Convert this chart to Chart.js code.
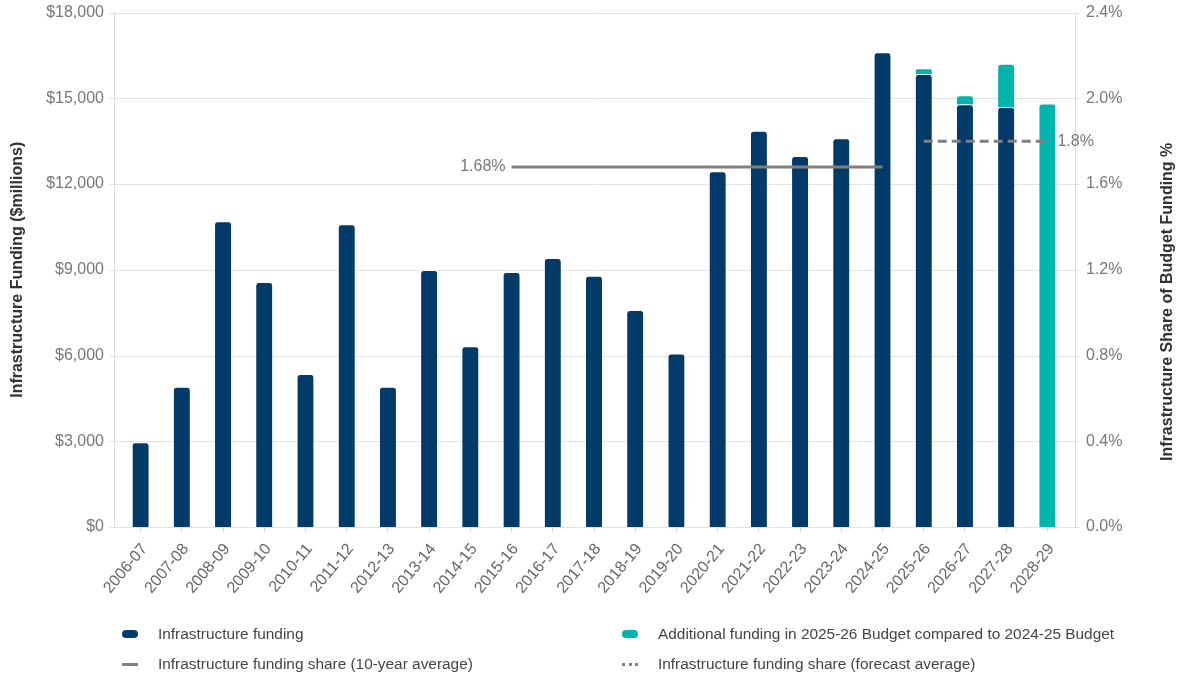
<!DOCTYPE html>
<html>
<head>
<meta charset="utf-8">
<script src="https://cdn.jsdelivr.net/npm/chart.js@4.4.1/dist/chart.umd.min.js"></script>
<style>
  html, body { margin: 0; padding: 0; background: #fff; }
  #wrap { position: relative; width: 1184px; height: 677px; }
  #legend { position: absolute; left: 0; top: 0; width: 1184px; height: 677px; pointer-events: none;
            font-family: "Liberation Sans", Arial, sans-serif; font-size: 15.4px; color: #444; }
  .item { position: absolute; display: flex; align-items: center; white-space: nowrap; }
  .mark { display: inline-block; margin-right: 20px; }
</style>
</head>
<body>
<div id="wrap">
  <canvas id="chart" width="1184" height="677"></canvas>
  <div id="legend"></div>
</div>
<script>
const years = ['2006-07','2007-08','2008-09','2009-10','2010-11','2011-12','2012-13','2013-14',
  '2014-15','2015-16','2016-17','2017-18','2018-19','2019-20','2020-21','2021-22','2022-23',
  '2023-24','2024-25','2025-26','2026-27','2027-28','2028-29'];

// $ millions
const infraFunding = [2950, 4900, 10690, 8560, 5340, 10580, 4900, 8980, 6310, 8910, 9400, 8780,
  7580, 6060, 12440, 13850, 12970, 13590, 16600, 15840, 14780, 14690, null];
const additionalFunding = [null, null, null, null, null, null, null, null, null, null, null, null,
  null, null, null, null, null, null, null, 200, 320, 1510, 14810];

// share of budget funding, %
const tenYearAvg = [null, null, null, null, null, null, null, null, null,
  1.68, 1.68, 1.68, 1.68, 1.68, 1.68, 1.68, 1.68, 1.68, 1.68, null, null, null, null];
const forecastAvg = [null, null, null, null, null, null, null, null, null, null, null, null,
  null, null, null, null, null, null, null, 1.8, 1.8, 1.8, 1.8];

const leftTicks = [0, 3000, 6000, 9000, 12000, 15000, 18000];
const rightTicks = [0, 0.4, 0.8, 1.2, 1.6, 2.0, 2.4];

const NAVY = '#023b69';
const TEAL = '#00b4ae';
const GREY = '#808080';
const FONT = '"Liberation Sans", Arial, sans-serif';

// grid, axis lines and titles (axis lines sit a little outside the category range)
const frame = {
  id: 'frame',
  beforeDatasetsDraw(chart) {
    const ctx = chart.ctx, y = chart.scales.y, a = chart.chartArea;
    const L = a.left - 6, R = a.right + 7;
    ctx.save();
    ctx.lineWidth = 1;
    ctx.strokeStyle = '#e3e3e3';
    leftTicks.forEach(v => {
      const py = Math.round(y.getPixelForValue(v)) + 0.5;
      ctx.beginPath(); ctx.moveTo(L - 5, py); ctx.lineTo(R + 5, py); ctx.stroke();
    });
    ctx.strokeStyle = '#d9d9d9';
    ctx.beginPath();
    ctx.moveTo(L + 0.5, a.top); ctx.lineTo(L + 0.5, a.bottom + 1);
    ctx.moveTo(R + 0.5, a.top); ctx.lineTo(R + 0.5, a.bottom + 1);
    ctx.stroke();
    ctx.restore();
  },
  afterDraw(chart) {
    const ctx = chart.ctx, a = chart.chartArea, y1 = chart.scales.y1, x = chart.scales.x;
    ctx.save();
    ctx.fillStyle = '#333';
    ctx.font = 'bold 16px ' + FONT;
    ctx.textAlign = 'center';
    ctx.textBaseline = 'middle';
    const mid = (a.top + a.bottom) / 2;
    ctx.save(); ctx.translate(18, mid); ctx.rotate(-Math.PI / 2);
    ctx.fillText('Infrastructure Funding ($millions)', 0, 0); ctx.restore();
    ctx.save(); ctx.translate(1168, mid + 32); ctx.rotate(-Math.PI / 2);
    ctx.fillText('Infrastructure Share of Budget Funding %', 0, 0); ctx.restore();

    // average line labels
    ctx.font = '16px ' + FONT;
    ctx.fillStyle = '#777';
    ctx.textAlign = 'right';
    ctx.fillText('1.68%', x.getPixelForValue(9) - 6, y1.getPixelForValue(1.68));
    ctx.textAlign = 'left';
    ctx.fillText('1.8%', x.getPixelForValue(22) + 10, y1.getPixelForValue(1.8));
    ctx.restore();
  }
};

const ctx = document.getElementById('chart').getContext('2d');
const chart = new Chart(ctx, {
  type: 'bar',
  data: {
    labels: years,
    datasets: [
      { type: 'line', label: 'Infrastructure funding share (10-year average)', data: tenYearAvg,
        yAxisID: 'y1', borderColor: GREY, borderWidth: 3, pointRadius: 0, order: 0, spanGaps: false },
      { type: 'line', label: 'Infrastructure funding share (forecast average)', data: forecastAvg,
        yAxisID: 'y1', borderColor: GREY, borderWidth: 3, borderDash: [9, 5], pointRadius: 0, order: 0 },
      { label: 'Infrastructure funding', data: infraFunding, backgroundColor: NAVY,
        borderColor: '#ffffff', borderWidth: { top: 1 }, borderSkipped: 'start',
        borderRadius: { topLeft: 4, topRight: 4 }, barThickness: 16, stack: 's', order: 1 },
      { label: 'Additional funding in 2025-26 Budget compared to 2024-25 Budget', data: additionalFunding,
        backgroundColor: TEAL, borderColor: '#ffffff', borderWidth: { top: 1 }, borderSkipped: 'start',
        borderRadius: { topLeft: 4, topRight: 4 }, barThickness: 16, stack: 's', order: 1 }
    ]
  },
  options: {
    responsive: false,
    animation: false,
    layout: { padding: { top: 2, left: 0, right: 0, bottom: 0 } },
    plugins: { legend: { display: false }, tooltip: { enabled: false } },
    scales: {
      x: {
        stacked: true,
        grid: { display: true, drawOnChartArea: false, offset: false, tickLength: 5, color: '#d9d9d9' },
        border: { display: false },
        ticks: { color: '#666', font: { family: FONT, size: 16 }, minRotation: 50, maxRotation: 50,
          padding: 8, labelOffset: 4 },
        afterFit: s => { s.height = 150; }
      },
      y: {
        position: 'left', stacked: true, min: 0, max: 18000,
        afterBuildTicks: s => { s.ticks = leftTicks.map(v => ({ value: v })); },
        grid: { display: false, drawTicks: true, tickLength: 13 },
        border: { display: false },
        ticks: { color: '#777', font: { family: FONT, size: 16 }, padding: 3,
          callback: v => '$' + v.toLocaleString('en-US') },
        afterFit: s => { s.width = 120; }
      },
      y1: {
        position: 'right', min: 0, max: 2.4,
        afterBuildTicks: s => { s.ticks = rightTicks.map(v => ({ value: v })); },
        grid: { display: false, drawTicks: true, tickLength: 15 },
        border: { display: false },
        ticks: { color: '#777', font: { family: FONT, size: 16 }, padding: 3,
          callback: v => v.toFixed(1) + '%' },
        afterFit: s => { s.width = 116; }
      }
    }
  },
  plugins: [frame]
});

// legend from the chart's datasets, laid out in two columns
const legendPos = [
  { ds: 2, x: 122, y: 634 }, { ds: 3, x: 622, y: 634 },
  { ds: 0, x: 122, y: 664 }, { ds: 1, x: 622, y: 664 }
];
const legend = document.getElementById('legend');
legendPos.forEach(p => {
  const d = chart.data.datasets[p.ds];
  const item = document.createElement('div');
  item.className = 'item';
  item.style.left = p.x + 'px';
  item.style.top = (p.y - 9) + 'px';
  const mark = document.createElement('span');
  mark.className = 'mark';
  if (d.type === 'line') {
    mark.style.width = '16px';
    mark.style.height = '0';
    mark.style.borderTop = '3px ' + (d.borderDash ? 'dotted ' : 'solid ') + d.borderColor;
  } else {
    mark.style.width = '16px';
    mark.style.height = '8px';
    mark.style.borderRadius = '4px';
    mark.style.background = d.backgroundColor;
  }
  const txt = document.createElement('span');
  txt.textContent = d.label;
  item.appendChild(mark);
  item.appendChild(txt);
  legend.appendChild(item);
});
</script>
</body>
</html>
